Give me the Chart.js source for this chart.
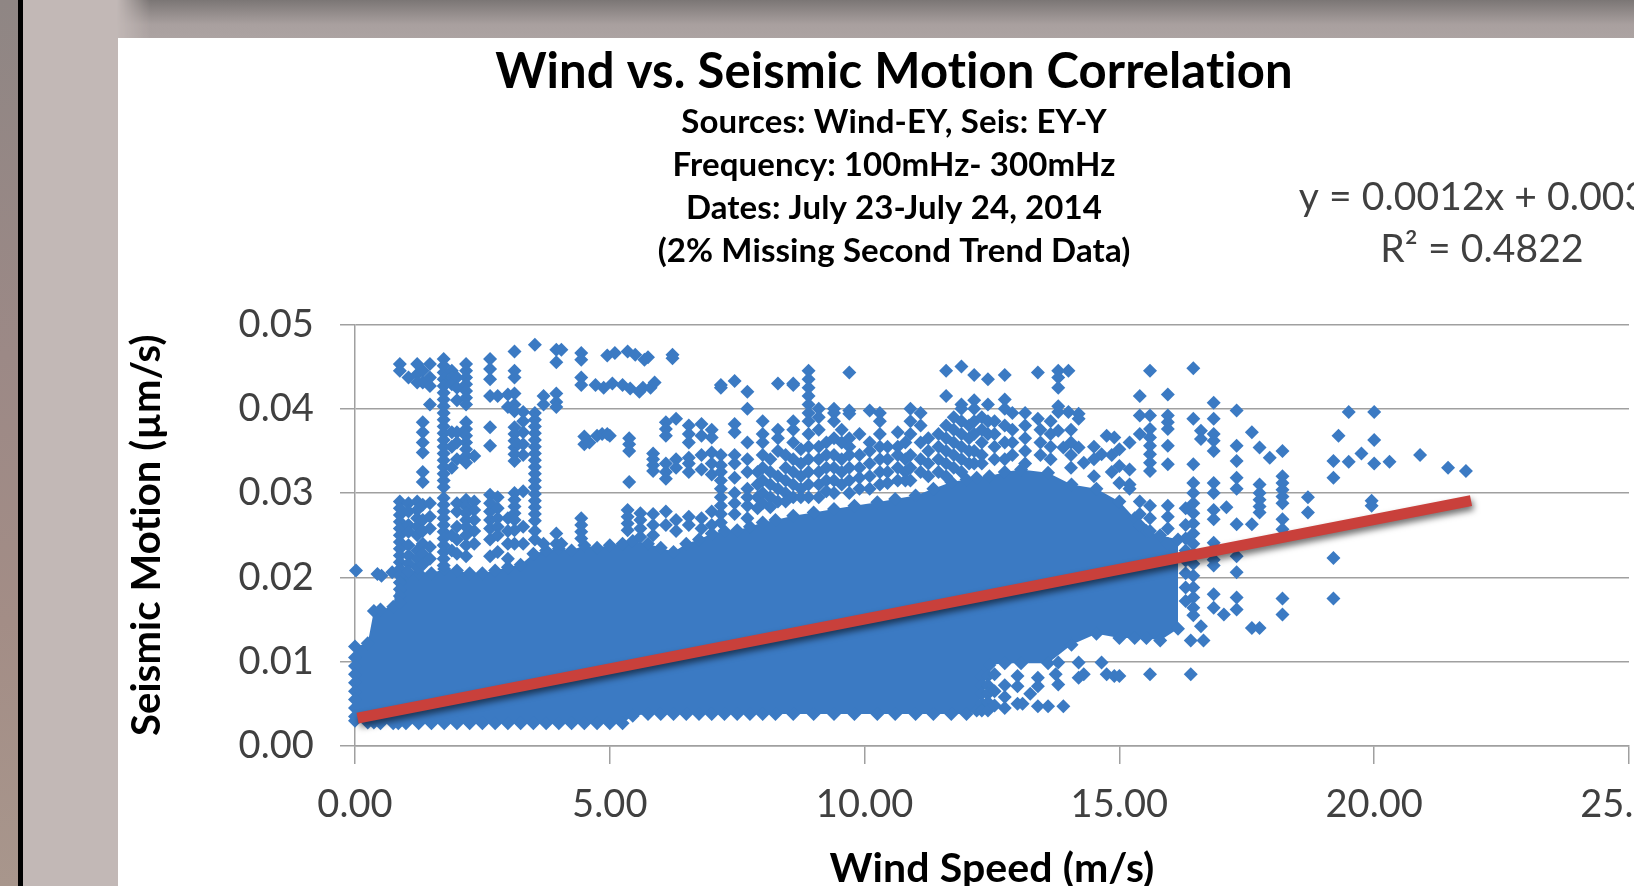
<!DOCTYPE html>
<html>
<head>
<meta charset="utf-8">
<title>Wind vs. Seismic Motion Correlation</title>
<script src="https://cdn.jsdelivr.net/npm/chart.js@4/dist/chart.umd.min.js"></script>
<style>
    html, body { margin: 0; height: 100%; overflow: hidden; }
    body { position: relative; width: 1634px; height: 886px; background: #c2b8b6; }
    #strip { position: absolute; left: 0; top: 0; width: 18px; height: 886px; background: linear-gradient(#8f8684, #9c8986 40%, #a38d86 70%, #a8968c); }
    #bar { position: absolute; left: 18px; top: 0; width: 5px; height: 886px; background: #000; }
    #band { position: absolute; left: 23px; top: 0; right: 0; height: 38px;
        background: linear-gradient(#7b7675, #a9a09f 65%, #aca3a2); 
        -webkit-mask-image: linear-gradient(90deg, transparent 94px, #000 127px); }
    #box { position: absolute; left: 118px; top: 38px; width: 1552px; height: 848px; background: #fff; }
    #chart { display: block; filter: blur(0.5px); }
</style>
</head>
<body>
<div id="strip"></div>
<div id="bar"></div>
<div id="band"></div>
<div id="box"><canvas id="chart" width="1552" height="848"></canvas></div>
<script>
const TITLE = 'Wind vs. Seismic Motion Correlation';
const SUBTITLE_LINES = [
    'Sources: Wind-EY, Seis: EY-Y',
    'Frequency: 100mHz- 300mHz',
    'Dates: July 23-July 24, 2014',
    '(2% Missing Second Trend Data)'
];
const EQUATION_LINES = ['y = 0.0012x + 0.003', 'R\u00b2 = 0.4822'];
const X_LABEL = 'Wind Speed (m/s)';
const Y_LABEL = 'Seismic Motion (\u00b5m/s)';
const X_TICKS = [0, 5, 10, 15, 20, 25];
const Y_TICKS = [0, 0.01, 0.02, 0.03, 0.04, 0.05];

const cloudWind = [0, 0.25, 0.37, 0.5, 0.75, 0.85, 1, 1.25, 1.5, 1.75, 2, 2.25, 2.5, 2.75, 3, 3.25, 3.5, 3.75, 4, 4.25, 4.5, 4.75, 5, 5.25, 5.45, 5.75, 6, 6.25, 6.5, 6.75, 7, 7.25, 7.5, 7.75, 8, 8.25, 8.6, 9, 9.4, 9.8, 10.25, 10.6, 11, 11.35, 11.7, 12, 12.2, 12.45, 12.75, 13.07, 13.6, 14.06, 14.55, 15, 15.3, 15.53, 15.8, 16.15];
const cloudTop = [0.0118, 0.0122, 0.016, 0.0162, 0.0165, 0.0205, 0.0205, 0.0205, 0.0205, 0.021, 0.0208, 0.0205, 0.0205, 0.0208, 0.0212, 0.0215, 0.0228, 0.0232, 0.0234, 0.0232, 0.0238, 0.0235, 0.0238, 0.024, 0.0243, 0.024, 0.0235, 0.023, 0.024, 0.0245, 0.0252, 0.0255, 0.0256, 0.026, 0.0265, 0.0268, 0.0273, 0.0277, 0.0281, 0.0285, 0.0289, 0.0293, 0.0297, 0.0305, 0.0313, 0.0316, 0.0318, 0.032, 0.0325, 0.0328, 0.0324, 0.031, 0.0305, 0.029, 0.027, 0.0255, 0.025, 0.0245];
const cloudBottom = [0.003, 0.0028, 0.0028, 0.0027, 0.0027, 0.0027, 0.0027, 0.0027, 0.0027, 0.0027, 0.0027, 0.0027, 0.0027, 0.0027, 0.0027, 0.0027, 0.0027, 0.0027, 0.0027, 0.0027, 0.0027, 0.0027, 0.0027, 0.0027, 0.0036, 0.0038, 0.0038, 0.0038, 0.0038, 0.0038, 0.0038, 0.0038, 0.0038, 0.0038, 0.0038, 0.0038, 0.0038, 0.0038, 0.0038, 0.0038, 0.0038, 0.0038, 0.0038, 0.0038, 0.0038, 0.0038, 0.0042, 0.0096, 0.0098, 0.0098, 0.0098, 0.012, 0.0133, 0.0128, 0.0128, 0.0128, 0.0125, 0.0139];

// Loose points, one row per wind speed column: [wind, seismic, seismic, ...]
const looseColumns = [
    [0, 0.0105, 0.0095, 0.0085, 0.0075, 0.0065, 0.0055, 0.0045, 0.0035],
    [0.02, 0.0208], [0.44, 0.0204], [0.52, 0.0202], [0.73, 0.0206],
    [0.88, 0.0453, 0.0445, 0.029, 0.0282, 0.0274, 0.0266, 0.0258, 0.025, 0.0242, 0.0234, 0.0226, 0.0218, 0.021, 0.0202, 0.0194, 0.0186, 0.0178, 0.017],
    [1.05, 0.0437, 0.0288, 0.0278, 0.0262, 0.0254, 0.0238, 0.0226, 0.0216, 0.0206],
    [1.22, 0.0453, 0.0441, 0.0431, 0.029, 0.028, 0.027, 0.026, 0.025, 0.0232, 0.0222, 0.0212],
    [1.33, 0.0445, 0.0431, 0.0384, 0.0372, 0.036, 0.0348, 0.0325, 0.0313, 0.0286, 0.0268, 0.0255, 0.024, 0.0228, 0.0215],
    [1.47, 0.0453, 0.0437, 0.0427, 0.0405, 0.0288, 0.0272, 0.0258, 0.0236, 0.0222],
    [1.74, 0.0459, 0.0451, 0.0443, 0.0435, 0.0427, 0.0419, 0.0411, 0.0403, 0.0395, 0.0387, 0.0379, 0.0371, 0.0363, 0.0355, 0.0347, 0.0339, 0.0331, 0.0323, 0.0315, 0.0307, 0.0294, 0.0286, 0.0278, 0.027, 0.0262, 0.0254, 0.0246, 0.0238, 0.023, 0.0222, 0.0214],
    [1.9, 0.0445, 0.0437, 0.0429, 0.0372, 0.0355, 0.033, 0.025, 0.0232],
    [2, 0.0437, 0.0425, 0.041, 0.0372, 0.036, 0.034, 0.0288, 0.0278, 0.026, 0.0245, 0.0228],
    [2.18, 0.0453, 0.0445, 0.0437, 0.0429, 0.0421, 0.0413, 0.0405, 0.0384, 0.0376, 0.0368, 0.036, 0.0352, 0.0344, 0.0336, 0.0292, 0.0284, 0.0276, 0.0268, 0.026, 0.025, 0.0238, 0.0225],
    [2.34, 0.0344, 0.029, 0.028, 0.0268, 0.0255, 0.024],
    [2.65, 0.0459, 0.0447, 0.0435, 0.0415, 0.0378, 0.0356, 0.0298, 0.0288, 0.0278, 0.0268, 0.0258, 0.0245, 0.0225],
    [2.8, 0.0415, 0.0295, 0.0282, 0.027, 0.026, 0.025, 0.023],
    [3, 0.0417, 0.0402, 0.027, 0.0255, 0.024, 0.0222],
    [3.13, 0.0468, 0.0445, 0.0437, 0.0418, 0.0405, 0.0397, 0.0378, 0.037, 0.0362, 0.0354, 0.0346, 0.0338, 0.03, 0.0292, 0.0284, 0.0276, 0.0268, 0.0256, 0.024],
    [3.3, 0.0396, 0.0385, 0.0372, 0.0358, 0.0345, 0.0302, 0.026, 0.024],
    [3.53, 0.0476, 0.0395, 0.0387, 0.0379, 0.0371, 0.0363, 0.0355, 0.0347, 0.0339, 0.0331, 0.0323, 0.0315, 0.0307, 0.0299, 0.0291, 0.0283, 0.0275, 0.0267, 0.0255, 0.0245],
    [3.7, 0.0415, 0.0405, 0.024], [3.95, 0.047, 0.0455, 0.0418, 0.0408, 0.0402, 0.0252, 0.024], [4.05, 0.047, 0.024],
    [4.44, 0.0466, 0.0458, 0.0437, 0.0428, 0.027, 0.0262, 0.0254, 0.0246],
    [4.5, 0.0367, 0.0358], [4.6, 0.036], [4.72, 0.0428], [4.75, 0.0368], [4.85, 0.037], [4.88, 0.0425], [4.95, 0.0463, 0.037], [5, 0.0368],
    [5.05, 0.043], [5.1, 0.0466], [5.25, 0.0428], [5.35, 0.0468, 0.028, 0.0272, 0.0264, 0.0256], [5.38, 0.0365, 0.0358, 0.035, 0.0313],
    [5.4, 0.0424], [5.5, 0.0464], [5.58, 0.042], [5.6, 0.0276, 0.0268, 0.0258, 0.0248], [5.65, 0.0425], [5.68, 0.0458], [5.75, 0.0461], [5.8, 0.0425],
    [5.85, 0.0347, 0.034, 0.0333, 0.0326, 0.0275, 0.0262, 0.025], [5.88, 0.0431],
    [6.1, 0.0384, 0.0376, 0.0368, 0.0335, 0.0325, 0.0317, 0.0278, 0.0262],
    [6.23, 0.0464, 0.046], [6.3, 0.0388, 0.034, 0.033, 0.0268, 0.0255],
    [6.55, 0.038, 0.037, 0.036, 0.0342, 0.0335, 0.0325, 0.0272, 0.0262],
    [6.8, 0.0382, 0.0368, 0.0345, 0.0328, 0.027, 0.0258],
    [7, 0.0375, 0.0366, 0.0348, 0.0335, 0.0322, 0.0278, 0.0262],
    [7.18, 0.0428, 0.0425, 0.0345, 0.0333, 0.0325, 0.0315, 0.0305, 0.0295, 0.0285, 0.0275, 0.0265],
    [7.45, 0.0433, 0.0382, 0.0372, 0.0345, 0.0335, 0.0318, 0.03, 0.0288, 0.0275],
    [7.7, 0.042, 0.04, 0.036, 0.034, 0.0325, 0.0305, 0.0295, 0.0285, 0.027],
    [7.9, 0.0325, 0.031, 0.0295, 0.0282],
    [8, 0.0385, 0.037, 0.036, 0.0345, 0.033, 0.0315, 0.03, 0.0288],
    [8.15, 0.034, 0.0325, 0.031, 0.0295, 0.0283],
    [8.3, 0.043, 0.0375, 0.0365, 0.035, 0.032, 0.0305, 0.029],
    [8.45, 0.0345, 0.033, 0.0315, 0.03, 0.029],
    [8.6, 0.0428, 0.043, 0.0385, 0.0375, 0.036, 0.034, 0.0325, 0.031, 0.0295],
    [8.75, 0.0352, 0.0335, 0.032, 0.0305, 0.0295],
    [8.9, 0.0445, 0.0435, 0.0425, 0.0415, 0.0405, 0.0395, 0.0385, 0.037, 0.0355, 0.034, 0.0325, 0.031, 0.0295],
    [9.1, 0.04, 0.039, 0.0375, 0.0355, 0.034, 0.0325, 0.031, 0.0295],
    [9.25, 0.036, 0.0345, 0.033, 0.0315, 0.0302],
    [9.4, 0.04, 0.0395, 0.0385, 0.0365, 0.0345, 0.033, 0.0315, 0.03],
    [9.55, 0.0375, 0.036, 0.034, 0.0325, 0.031],
    [9.7, 0.0443, 0.0398, 0.0394, 0.0365, 0.0355, 0.0345, 0.033, 0.0315, 0.03],
    [9.9, 0.037, 0.0345, 0.033, 0.0318, 0.0305],
    [10.1, 0.0398, 0.036, 0.035, 0.0335, 0.032, 0.0305],
    [10.3, 0.0395, 0.0385, 0.037, 0.0355, 0.034, 0.0325, 0.031],
    [10.45, 0.0355, 0.034, 0.0325, 0.0312],
    [10.65, 0.0372, 0.0355, 0.0345, 0.033, 0.0315],
    [10.8, 0.036, 0.034, 0.0325, 0.0315],
    [10.9, 0.04, 0.0385, 0.037, 0.0345, 0.033, 0.0315],
    [11.1, 0.0395, 0.038, 0.036, 0.034, 0.0325],
    [11.25, 0.0365, 0.035, 0.0335, 0.032],
    [11.45, 0.037, 0.0355, 0.034, 0.0325],
    [11.6, 0.0445, 0.0415, 0.038, 0.0365, 0.035, 0.0335, 0.032],
    [11.75, 0.039, 0.0375, 0.036, 0.0345, 0.033],
    [11.9, 0.045, 0.0405, 0.04, 0.0385, 0.037, 0.0355, 0.034, 0.0325],
    [12.05, 0.038, 0.0365, 0.035, 0.0335],
    [12.15, 0.044, 0.041, 0.04, 0.0385, 0.037, 0.035, 0.0335],
    [12.3, 0.039, 0.0375, 0.036, 0.0345, 0.0335, 0.0082, 0.0072, 0.0062, 0.005, 0.0042],
    [12.42, 0.0435, 0.0405, 0.0385, 0.037, 0.0083, 0.0072, 0.0062, 0.0052, 0.0042],
    [12.55, 0.0385, 0.037, 0.0355, 0.034, 0.0085, 0.0065, 0.0048],
    [12.75, 0.044, 0.0411, 0.04, 0.038, 0.036, 0.034, 0.0072, 0.0058, 0.0045],
    [12.9, 0.0395, 0.0375, 0.036, 0.0345],
    [13, 0.0083, 0.0071, 0.005], [13.1, 0.005],
    [13.15, 0.0395, 0.038, 0.0365, 0.035, 0.0335], [13.25, 0.0062],
    [13.4, 0.0443, 0.0388, 0.0081, 0.0071, 0.0047], [13.45, 0.0375, 0.036, 0.0345],
    [13.6, 0.0047], [13.65, 0.0385, 0.037, 0.0355, 0.034], [13.75, 0.0085],
    [13.8, 0.0445, 0.0437, 0.0425, 0.0403, 0.0396, 0.0374, 0.0073, 0.0099],
    [13.9, 0.0047, 0.0354], [14, 0.0445, 0.0396], [14.05, 0.0375, 0.036, 0.0345, 0.033],
    [14.2, 0.0394, 0.0388, 0.0354, 0.0099, 0.0081], [14.3, 0.0336, 0.0085], [14.5, 0.0355, 0.034, 0.032],
    [14.65, 0.0346, 0.0099], [14.75, 0.0368, 0.0085], [14.85, 0.0345, 0.0325], [14.9, 0.0366, 0.0083], [15, 0.0352, 0.0332, 0.0312, 0.0083],
    [15.2, 0.036, 0.0328, 0.031, 0.0305], [15.4, 0.0415, 0.0392, 0.037, 0.029, 0.0275, 0.0262],
    [15.6, 0.0445, 0.0392, 0.0376, 0.0366, 0.0356, 0.0346, 0.0336, 0.0326, 0.0285, 0.027, 0.0255, 0.0085],
    [15.95, 0.0417, 0.0392, 0.0384, 0.0376, 0.0356, 0.0334, 0.0285, 0.0272, 0.0258, 0.024],
    [16.3, 0.0282, 0.0262, 0.0246, 0.0232, 0.022, 0.0205, 0.0188, 0.0172],
    [16.4, 0.0125, 0.0085], [16.45, 0.0448, 0.0388, 0.0334, 0.0312, 0.03, 0.0288, 0.0276, 0.0264, 0.0252, 0.024, 0.0228, 0.0216, 0.0202, 0.0188, 0.0176, 0.0164, 0.0155],
    [16.6, 0.0374, 0.0364, 0.0142], [16.65, 0.0125],
    [16.85, 0.0407, 0.0388, 0.037, 0.0362, 0.035, 0.0312, 0.03, 0.028, 0.0269, 0.0241, 0.0221, 0.0214, 0.018, 0.0164],
    [17.05, 0.0156], [17.3, 0.0398, 0.0356, 0.0338, 0.0318, 0.0305, 0.0263, 0.0225, 0.0206, 0.0176, 0.0162],
    [17.1, 0.0283], [17.6, 0.0372, 0.0263, 0.014], [17.75, 0.0354, 0.031, 0.03, 0.0292, 0.0284, 0.0277, 0.014],
    [17.95, 0.0342], [18.2, 0.035, 0.032, 0.0312, 0.0304, 0.0296, 0.0288, 0.0269, 0.0257, 0.0175, 0.0156],
    [18.7, 0.0295, 0.0277], [19.2, 0.0338, 0.0318, 0.0223, 0.0175], [19.3, 0.0368], [19.5, 0.0396, 0.0337],
    [19.75, 0.0347], [19.95, 0.0291, 0.0285], [20, 0.0396, 0.0363, 0.0335], [20.3, 0.0337], [20.9, 0.0345],
    [21.45, 0.033], [21.8, 0.0326]
];

const trendWind = [0.05, 21.9];
const trendSeismic = [0.0033, 0.0291];

const BLUE = '#3b7ac3';
const LABEL_FONT = 'Lato, Carlito, "Open Sans", sans-serif';

function pairs(xs, ys) {
    return xs.map((x, i) => ({ x: x, y: ys[i] }));
}

const loosePoints = looseColumns.flatMap(col => col.slice(1).map(y => ({ x: col[0], y: y })));

// soft shadow under the trend line
const trendShadow = {
    id: 'trendShadow',
    beforeDatasetDraw(chart, args) {
        if (args.index !== 3) return;
        const ctx = chart.ctx;
        ctx.save();
        ctx.shadowColor = 'rgba(0, 0, 0, 0.55)';
        ctx.shadowBlur = 6;
        ctx.shadowOffsetX = 2;
        ctx.shadowOffsetY = 4;
    },
    afterDatasetDraw(chart, args) {
        if (args.index === 3) chart.ctx.restore();
    }
};

const equationLabel = {
    id: 'equationLabel',
    beforeDraw(chart) {
        // a tiny spacing keeps Lato from joining "ti" into a ligature
        chart.ctx.letterSpacing = '0.1px';
    },
    afterDraw(chart) {
        const ctx = chart.ctx;
        ctx.save();
        ctx.font = '39px ' + LABEL_FONT;
        ctx.fillStyle = '#404040';
        ctx.textAlign = 'center';
        ctx.textBaseline = 'middle';
        ctx.fillText(EQUATION_LINES[0], 1355, 159);
        ctx.fillText(EQUATION_LINES[1], 1364, 211);
        ctx.restore();
    }
};

new Chart(document.getElementById('chart'), {
    type: 'scatter',
    data: {
        datasets: [
            { data: pairs(cloudWind, cloudTop), showLine: true, borderWidth: 0, backgroundColor: BLUE, pointBackgroundColor: BLUE, pointStyle: 'rectRot', pointRadius: 7, pointBorderWidth: 0, fill: '+1', order: 3, clip: false },
            { data: pairs(cloudWind, cloudBottom), showLine: true, borderWidth: 0, pointBackgroundColor: BLUE, pointStyle: 'rectRot', pointRadius: 7, pointBorderWidth: 0, fill: false, order: 2, clip: false },
            { data: loosePoints, pointBackgroundColor: BLUE, pointStyle: 'rectRot', pointRadius: 7, pointBorderWidth: 0, order: 1, clip: false },
            { data: pairs(trendWind, trendSeismic), showLine: true, borderColor: '#c9403b', borderWidth: 11, pointRadius: 0, borderCapStyle: 'butt', order: 0, clip: false }
        ]
    },
    options: {
        responsive: false,
        animation: false,
        events: [],
        layout: { padding: { left: 41, right: 41, top: 0, bottom: 0 } },
        plugins: {
            legend: { display: false },
            tooltip: { enabled: false },
            title: {
                display: true,
                text: TITLE,
                color: '#000',
                font: { family: LABEL_FONT, size: 49, weight: 'bold', lineHeight: 1.2 },
                padding: { top: 4.5, bottom: 0 }
            },
            subtitle: {
                display: true,
                text: SUBTITLE_LINES,
                color: '#000',
                font: { family: LABEL_FONT, size: 33, weight: 'bold', lineHeight: 1.3 },
                padding: { top: 0, bottom: 51.5 }
            }
        },
        scales: {
            x: {
                type: 'linear',
                min: X_TICKS[0],
                max: X_TICKS[X_TICKS.length - 1],
                afterBuildTicks(scale) { scale.ticks = X_TICKS.map(v => ({ value: v })); },
                afterFit(scale) { scale.paddingLeft = 0; scale.paddingRight = 0; scale.height = 140; },
                grid: { drawOnChartArea: false, color: '#a0a0a0', lineWidth: 1.5, tickLength: 18 },
                border: { color: '#a0a0a0', width: 1.5 },
                ticks: { color: '#404040', font: { family: LABEL_FONT, size: 38 }, padding: 18, maxRotation: 0, callback: v => v.toFixed(2) },
                title: { display: true, text: X_LABEL, color: '#000', font: { family: LABEL_FONT, size: 41, weight: 'bold' }, padding: { top: 14, bottom: -7 } }
            },
            y: {
                type: 'linear',
                min: Y_TICKS[0],
                max: Y_TICKS[Y_TICKS.length - 1],
                afterBuildTicks(scale) { scale.ticks = Y_TICKS.map(v => ({ value: v })); },
                afterFit(scale) { scale.width = 196; },
                grid: { color: '#a0a0a0', lineWidth: 1.5, tickLength: 15 },
                border: { color: '#a0a0a0', width: 1.5 },
                ticks: { color: '#404040', font: { family: LABEL_FONT, size: 38 }, padding: 26, callback: v => v.toFixed(2) },
                title: { display: true, text: Y_LABEL, color: '#000', font: { family: LABEL_FONT, size: 40, weight: 'bold' }, padding: { top: -36, bottom: 0 } }
            }
        }
    },
    plugins: [trendShadow, equationLabel]
});
</script>
</body>
</html>
